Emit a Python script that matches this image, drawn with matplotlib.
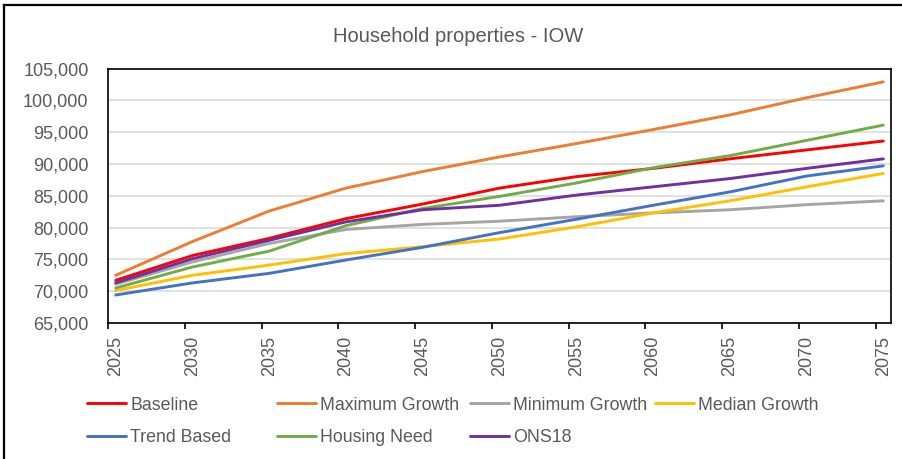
import numpy as np
import matplotlib
matplotlib.use('Agg')
import matplotlib.pyplot as plt
from matplotlib.lines import Line2D

# Data (5-year steps)
years = [2025, 2030, 2035, 2040, 2045, 2050, 2055, 2060, 2065, 2070, 2075]
baseline = [71700, 75600, 78300, 81400, 83700, 86200, 88000, 89300, 90800, 92200, 93600]
maximum_growth = [72500, 77800, 82600, 86200, 88800, 91100, 93200, 95400, 97700, 100400, 102900]
minimum_growth = [71100, 74600, 77500, 79700, 80500, 81000, 81700, 82300, 82800, 83600, 84200]
median_growth = [70100, 72500, 74100, 75900, 77000, 78200, 80100, 82300, 84200, 86400, 88500]
trend_based = [69400, 71300, 72800, 74900, 76900, 79200, 81300, 83500, 85600, 88100, 89700]
housing_need = [70500, 73800, 76300, 80300, 83000, 84900, 87000, 89400, 91300, 93700, 96100]
ons18 = [71300, 75100, 78000, 80900, 82800, 83500, 85100, 86400, 87700, 89300, 90800]

series_names = ['Baseline', 'Maximum Growth', 'Minimum Growth', 'Median Growth',
                'Trend Based', 'Housing Need', 'ONS18']
series_values = [baseline, maximum_growth, minimum_growth, median_growth,
                 trend_based, housing_need, ons18]
series_colors = ['#FF0000', '#ED7D31', '#A5A5A5', '#FFC000', '#4472C4', '#70AD47', '#7030A0']

plt.rcParams['font.family'] = ['Liberation Sans', 'DejaVu Sans']
text_color = '#595959'

W, H = 902, 459
fig = plt.figure(figsize=(W / 100, H / 100), dpi=100)
ax = fig.add_axes([108 / W, 1 - 323 / H, (891 - 108) / W, (323 - 68.5) / H])

# Draw the lines
lines = []
for name, vals, col in zip(series_names, series_values, series_colors):
    ln, = ax.plot(years, vals, color=col, lw=2.1, label=name, solid_capstyle='round')
    lines.append(ln)

# Axes, grid and ticks
ax.set_xlim(2024.5, 2075.5)
ax.set_ylim(65000, 105000)
ax.set_yticks(np.arange(65000, 105001, 5000))
ax.set_yticklabels([f'{v:,}' for v in range(65000, 105001, 5000)])
ax.yaxis.grid(True, color='#D9D9D9', lw=1.1)
ax.set_axisbelow(True)
ax.tick_params(axis='y', length=0, pad=14, labelsize=13, labelcolor=text_color)

ax.set_xticks(years)
ax.set_xticklabels([str(y) for y in years], rotation=90)
ax.set_xticks(np.arange(2024.5, 2075, 5), minor=True)
ax.tick_params(axis='x', which='major', length=0, pad=9, labelsize=13, labelcolor=text_color)
ax.tick_params(axis='x', which='minor', length=4, width=1.2, direction='out', color='black')

for sp in ax.spines.values():
    sp.set_color('black')
    sp.set_linewidth(1.2)

# Title
fig.text(458 / W, 1 - 37 / H, 'Household properties - IOW', ha='center', va='center',
         fontsize=14.5, color=text_color)

# Legend laid out in fixed columns like Excel
columns = [(87, [0, 4]), (277, [1, 5]), (470, [2, 6]), (655, [3])]
for x0, idx in columns:
    leg = fig.legend([lines[i] for i in idx], [series_names[i] for i in idx],
                     loc='upper left', bbox_to_anchor=(x0 / W, 1 - 396.5 / H),
                     frameon=False, fontsize=12.8, handlelength=2.2, handletextpad=0.22,
                     borderpad=0, borderaxespad=0, labelspacing=0.9, labelcolor=text_color)

# Outer chart border (top and left only visible)
fig.add_artist(Line2D([4 / W, 1], [1 - 5 / H, 1 - 5 / H], color='black', lw=1.6,
                      transform=fig.transFigure))
fig.add_artist(Line2D([4 / W, 4 / W], [0, 1 - 5 / H], color='black', lw=1.6,
                      transform=fig.transFigure))

plt.savefig('out.png', dpi=100)
plt.close()
